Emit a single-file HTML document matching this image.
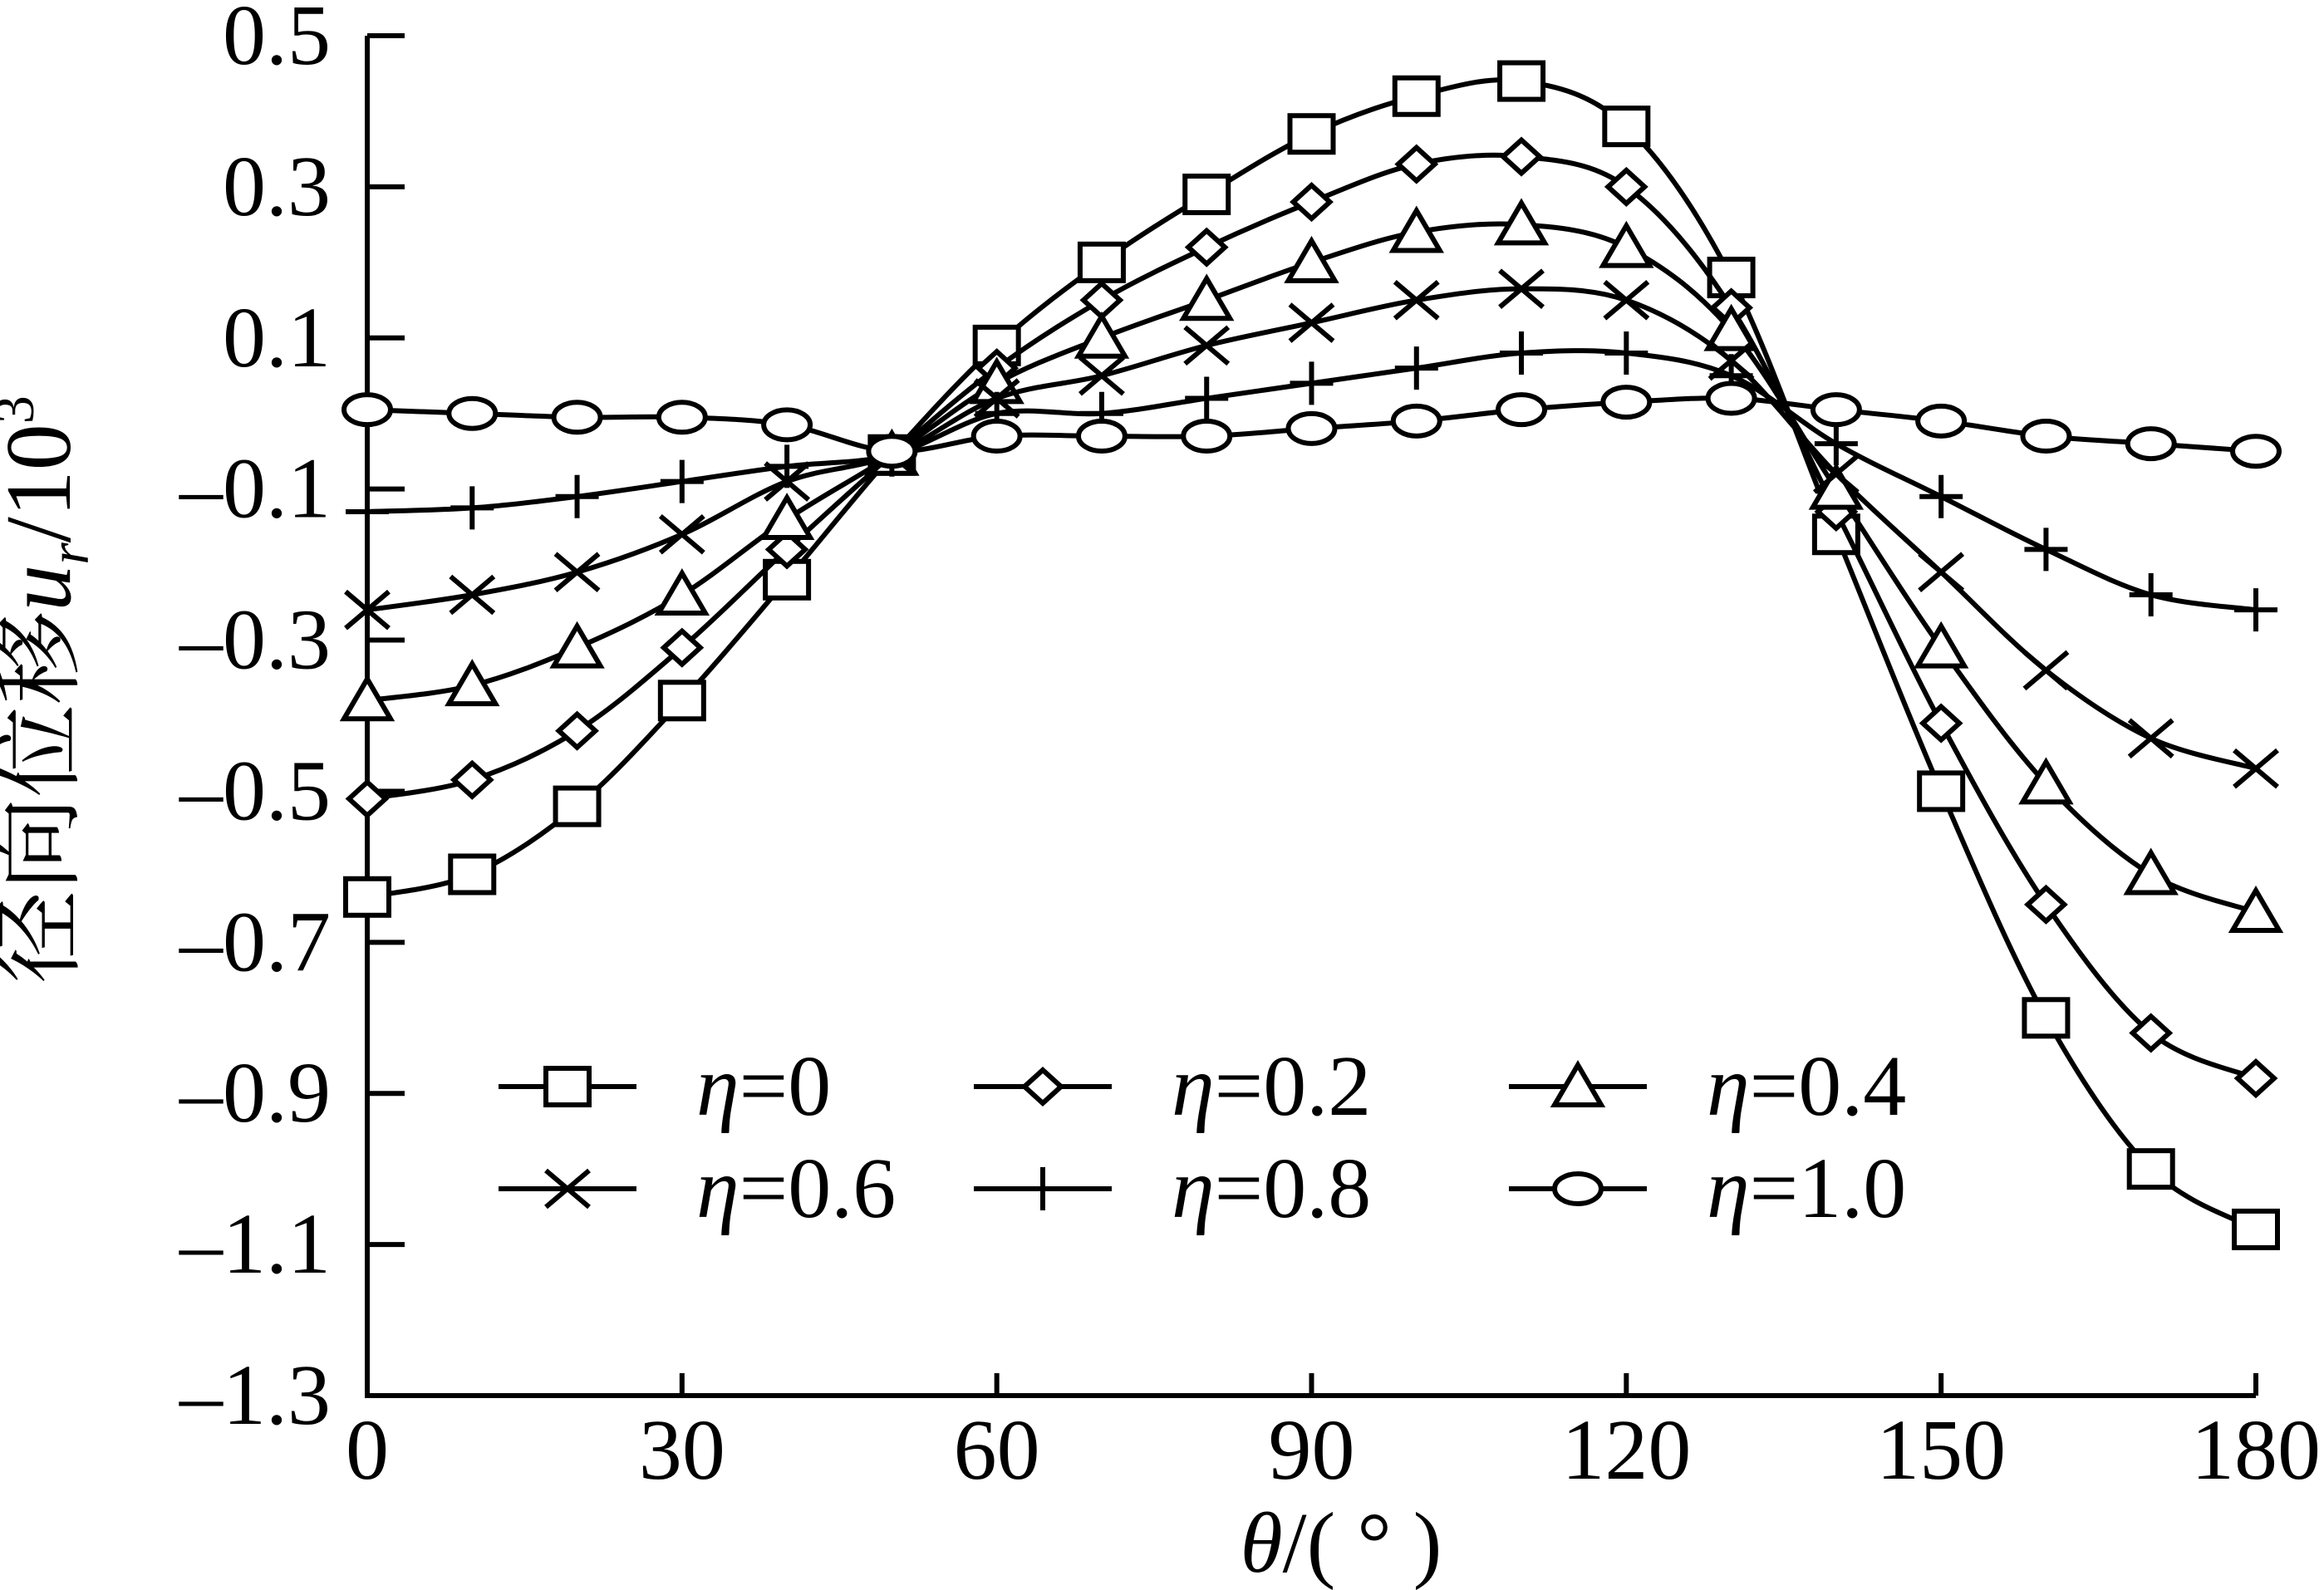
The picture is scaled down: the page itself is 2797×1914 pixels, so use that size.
<!DOCTYPE html>
<html><head><meta charset="utf-8"><style>
html,body{margin:0;padding:0;background:#fff;}
svg{display:block;}
text{font-family:"Liberation Serif","Noto Serif CJK SC",serif;fill:#000;}
</style></head><body>
<svg id="chart" width="2797" height="1914" viewBox="0 0 2797 1914" xmlns="http://www.w3.org/2000/svg">
<g id="axes"></g>
<g id="series"></g>
<g id="legend"></g>
<text x="1614" y="1892" font-size="104" text-anchor="middle"><tspan font-style="italic">θ</tspan>/( ° )</text>
<text transform="translate(84,830) rotate(-90)" font-size="112" text-anchor="middle"><tspan font-family="'Noto Serif CJK SC','Noto Sans CJK SC',serif">径向位移</tspan><tspan font-style="italic">u</tspan><tspan font-style="italic" font-size="68" dy="22">r</tspan><tspan dy="-22">/10</tspan><tspan font-size="68" dy="-44">3</tspan></text>
</svg>
<script>
const xValues=[0,10,20,30,40,50,60,70,80,90,100,110,120,130,140,150,160,170,180];
const seriesNames=["η=0","η=0.2","η=0.4","η=0.6","η=0.8","η=1.0"];
const markerTypes=["square","diamond","triangle","cross","plus","circle"];
const s0=[-0.64,-0.61,-0.52,-0.38,-0.22,-0.055,0.09,0.2,0.29,0.37,0.42,0.44,0.38,0.18,-0.16,-0.5,-0.8,-1.0,-1.08];
const s2=[-0.51,-0.485,-0.42,-0.31,-0.18,-0.055,0.06,0.15,0.22,0.28,0.33,0.34,0.3,0.14,-0.13,-0.41,-0.65,-0.82,-0.88];
const s4=[-0.38,-0.36,-0.31,-0.24,-0.14,-0.055,0.04,0.10,0.15,0.20,0.24,0.25,0.22,0.11,-0.10,-0.31,-0.49,-0.61,-0.66];
const s6=[-0.26,-0.24,-0.21,-0.16,-0.09,-0.055,0.02,0.05,0.09,0.12,0.15,0.165,0.15,0.07,-0.08,-0.21,-0.34,-0.43,-0.47];
const s8=[-0.13,-0.125,-0.11,-0.09,-0.07,-0.055,0.0,0.0,0.02,0.04,0.06,0.08,0.08,0.05,-0.04,-0.11,-0.18,-0.24,-0.26];
const s10=[0.005,0.0,-0.005,-0.005,-0.015,-0.05,-0.03,-0.03,-0.03,-0.02,-0.01,0.005,0.015,0.02,0.005,-0.01,-0.03,-0.04,-0.05];
const allSeries=[s0,s2,s4,s6,s8,s10];
const yTicks=[0.5,0.3,0.1,-0.1,-0.3,-0.5,-0.7,-0.9,-1.1,-1.3];
const yTickLabels=["0.5","0.3","0.1","–0.1","–0.3","–0.5","–0.7","–0.9","–1.1","–1.3"];
const xTicks=[0,30,60,90,120,150,180];
const xTickLabels=["0","30","60","90","120","150","180"];

const NS="http://www.w3.org/2000/svg";
const X0=442,X1=2715,Y0=43,Y1=1680;
const SW=6;
function xs(v){return X0+(v-0)/(180-0)*(X1-X0);}
function ys(v){return Y0+(0.5-v)/(0.5+1.3)*(Y1-Y0);}
function mk(tag,attrs,parent){const e=document.createElementNS(NS,tag);for(const k in attrs)e.setAttribute(k,attrs[k]);parent.appendChild(e);return e;}
const axes=document.getElementById('axes');
let ax=mk('path',{d:`M${X0},${Y0} V${Y1} H${X1}`,fill:'none',stroke:'#000','stroke-width':SW},axes);


yTicks.forEach((v,i)=>{
  const t=mk('line',{x1:X0,x2:X0+45,y1:ys(v),y2:ys(v),stroke:'#000','stroke-width':SW},axes);
  
  
  const l=mk('text',{x:398,y:ys(v)+34,'font-size':104,'text-anchor':'end'},axes);
  l.textContent=yTickLabels[i];
  
  
});
xTicks.forEach((v,i)=>{
  const t=mk('line',{x1:xs(v),x2:xs(v),y1:Y1,y2:Y1-27,stroke:'#000','stroke-width':SW},axes);
  
  
  const l=mk('text',{x:xs(v),y:1780,'font-size':104,'text-anchor':'middle'},axes);
  l.textContent=xTickLabels[i];
  
  
});
function marker(type,cx,cy,p){
  const st={fill:'#fff',stroke:'#000','stroke-width':SW};
  let e;
  if(type==='square')e=mk('rect',Object.assign({x:cx-26,y:cy-22,width:52,height:44},st),p);
  else if(type==='diamond')e=mk('path',Object.assign({d:`M${cx-22},${cy} L${cx},${cy-20} L${cx+22},${cy} L${cx},${cy+20}Z`},st),p);
  else if(type==='triangle')e=mk('path',Object.assign({d:`M${cx},${cy-26} L${cx+28},${cy+22} L${cx-28},${cy+22}Z`},st),p);
  else if(type==='cross')e=mk('path',{d:`M${cx-26},${cy-22} L${cx+26},${cy+22} M${cx-26},${cy+22} L${cx+26},${cy-22}`,stroke:'#000','stroke-width':SW,fill:'none'},p);
  else if(type==='plus')e=mk('path',{d:`M${cx-26},${cy} H${cx+26} M${cx},${cy-26} V${cy+26}`,stroke:'#000','stroke-width':SW,fill:'none'},p);
  else e=mk('ellipse',Object.assign({cx:cx,cy:cy,rx:28,ry:18},st),p);
  return e;
}
function smooth(pts){
  let d=`M${pts[0][0]},${pts[0][1]}`;
  for(let i=0;i<pts.length-1;i++){
    const p0=pts[Math.max(0,i-1)],p1=pts[i],p2=pts[i+1],p3=pts[Math.min(pts.length-1,i+2)];
    const c1=[p1[0]+(p2[0]-p0[0])/6,p1[1]+(p2[1]-p0[1])/6];
    const c2=[p2[0]-(p3[0]-p1[0])/6,p2[1]-(p3[1]-p1[1])/6];
    d+=` C${c1[0]},${c1[1]} ${c2[0]},${c2[1]} ${p2[0]},${p2[1]}`;
  }
  return d;
}
const sg=document.getElementById('series');
allSeries.forEach((arr,si)=>{
  const g=mk('g',{},sg);
  
  
  const pts=arr.map((v,i)=>[xs(xValues[i]),ys(v)]);
  const ln=mk('path',{d:smooth(pts),fill:'none',stroke:'#000','stroke-width':SW},g);
  
  
  pts.forEach(p=>{
    const m=marker(markerTypes[si],p[0],p[1],g);
    
    
  });
});
const lg=document.getElementById('legend');
const colX=[600,1172,1816],rowY=[1308,1431];
seriesNames.forEach((n,i)=>{
  const cx=colX[i%3],cy=rowY[Math.floor(i/3)];
  const g=mk('g',{},lg);
  
  
  mk('line',{x1:cx,x2:cx+166,y1:cy,y2:cy,stroke:'#000','stroke-width':SW},g);
  marker(markerTypes[i],cx+83,cy,g);
  const t=mk('text',{x:cx+238,y:cy+34,'font-size':104},g);
  t.innerHTML='<tspan font-style="italic">η</tspan>='+n.slice(2);
});
</script>
</body></html>
